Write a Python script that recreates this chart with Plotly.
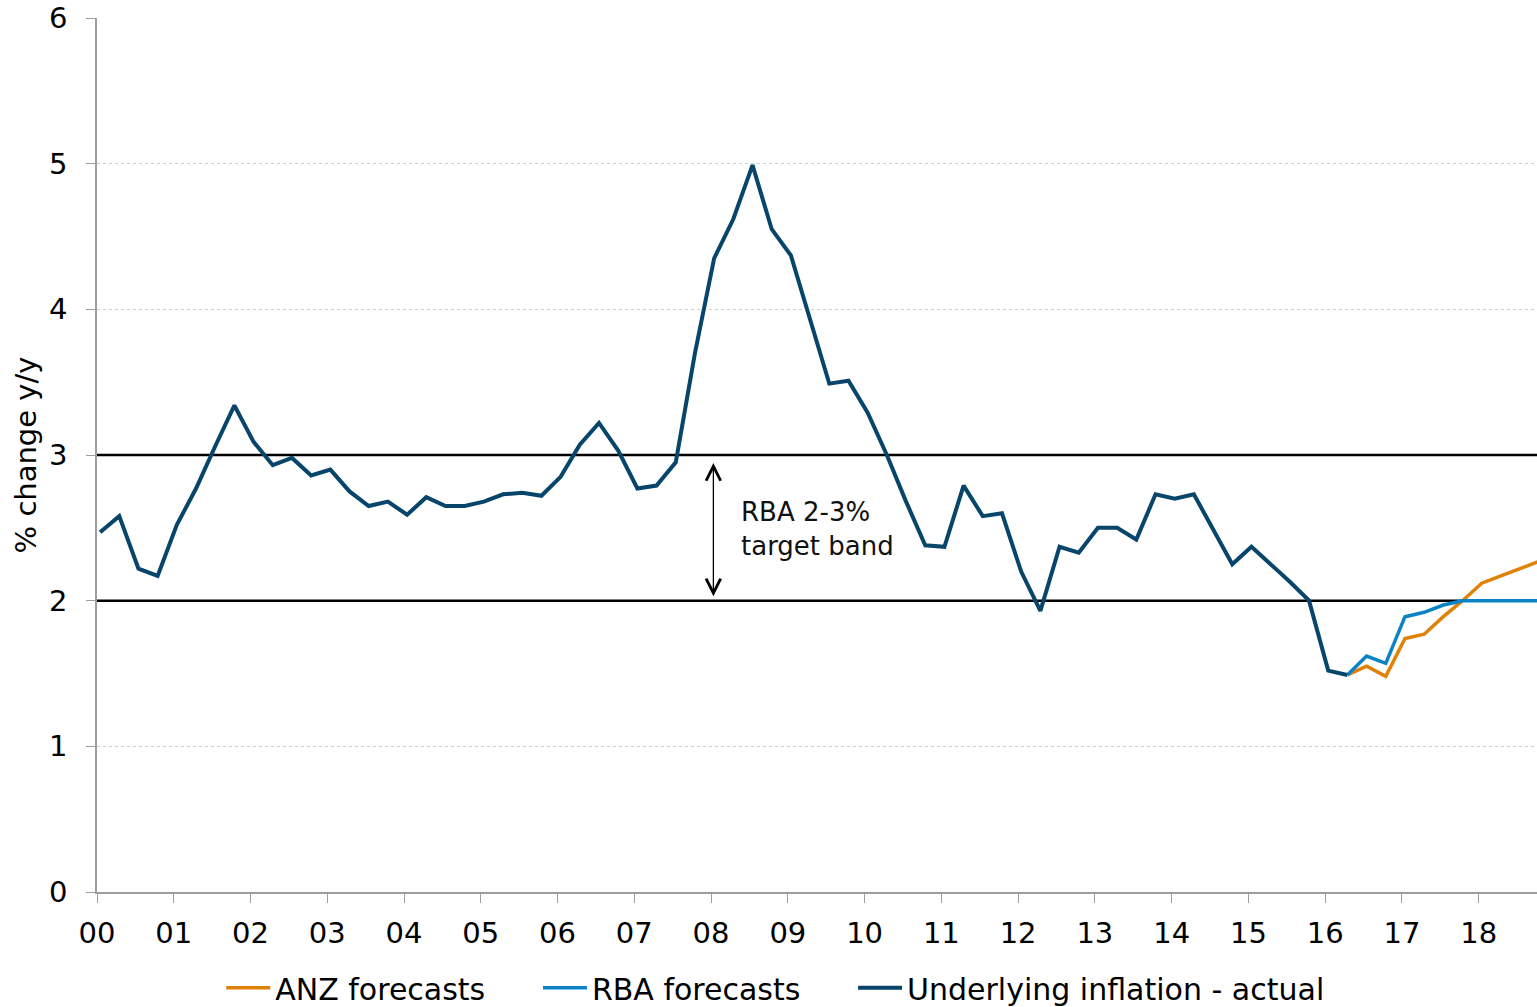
import plotly.graph_objects as go

# ---- data (quarterly, first observation just after start of 2000) ----
start_year = 0.04          # position of first quarter relative to "00" tick
step = 0.25

actual = [2.47, 2.58, 2.22, 2.17, 2.52, 2.77, 3.06, 3.34, 3.09, 2.93,
          2.98, 2.86, 2.90, 2.75, 2.65, 2.68, 2.59, 2.71, 2.65, 2.65,
          2.68, 2.73, 2.74, 2.72, 2.85, 3.07, 3.22, 3.03, 2.77, 2.79,
          2.95, 3.70, 4.35, 4.62, 4.99, 4.55, 4.37, 3.93, 3.49, 3.51,
          3.29, 3.00, 2.68, 2.38, 2.37, 2.79, 2.58, 2.60, 2.20, 1.93,
          2.37, 2.33, 2.50, 2.50, 2.42, 2.73, 2.70, 2.73, 2.49, 2.25,
          2.37, 2.25, 2.13, 2.00, 1.52, 1.49]

forecast_start_index = 65
anz_forecast = [1.49, 1.55, 1.48, 1.74, 1.77, 1.89, 2.00, 2.12, 2.17, 2.22, 2.27]
rba_forecast = [1.49, 1.62, 1.57, 1.89, 1.92, 1.97, 2.00, 2.00, 2.00, 2.00, 2.00]

tick_years = list(range(0, 19))
tick_labels = [f"{y:02d}" for y in tick_years]

band_low, band_high = 2, 3
x_range = [0, 18.76]

x_actual = [start_year + step * i for i in range(len(actual))]
x_fc = [start_year + step * (forecast_start_index + i) for i in range(len(anz_forecast))]

NAVY = "#07456a"
ORANGE = "#df8207"
BLUE = "#0a83c6"
FONT = "DejaVu Sans"
PAD = "\u00a0" * 5

fig = go.Figure()
# target band boundary lines (drawn first so data sits on top)
for yv in (band_low, band_high):
    fig.add_trace(go.Scatter(x=x_range, y=[yv, yv], mode="lines", showlegend=False,
                             hoverinfo="skip", line=dict(color="black", width=2.5)))

fig.add_trace(go.Scatter(x=x_fc, y=anz_forecast, mode="lines", name="ANZ forecasts" + PAD,
                         line=dict(color=ORANGE, width=3.5)))
fig.add_trace(go.Scatter(x=x_fc, y=rba_forecast, mode="lines", name="RBA forecasts" + PAD,
                         line=dict(color=BLUE, width=3.5)))
fig.add_trace(go.Scatter(x=x_actual, y=actual, mode="lines", name="Underlying inflation - actual",
                         line=dict(color=NAVY, width=4)))

# double-headed arrow for target band
fig.add_annotation(x=8.03, y=2.03, ax=8.03, ay=2.955, xref="x", yref="y",
                   axref="x", ayref="y", text="", showarrow=True,
                   arrowhead=5, startarrowhead=5, arrowside="end+start",
                   arrowsize=2.2, startarrowsize=2.2, arrowwidth=1.3, arrowcolor="black")
fig.add_annotation(x=8.36, y=2.49, xref="x", yref="y", text="RBA 2-3%<br>target band",
                   showarrow=False, xanchor="left", yanchor="middle", align="left",
                   font=dict(family=FONT, size=26, color="#111111"))

fig.update_layout(
    width=1537, height=1007,
    margin=dict(l=97, r=0, t=18, b=115),
    paper_bgcolor="white", plot_bgcolor="white",
    font=dict(family=FONT, color="black"),
    showlegend=True,
    legend=dict(orientation="h", x=0.471, xanchor="center",
                yref="container", y=0.019, yanchor="middle",
                itemwidth=44,
                font=dict(family=FONT, size=30, color="black"), bgcolor="rgba(0,0,0,0)"),
    xaxis=dict(range=x_range, tickvals=tick_years, ticktext=tick_labels,
               ticks="outside", ticklen=9, tickwidth=1.3, tickcolor="#9e9e9e",
               showline=True, linecolor="#9e9e9e", linewidth=1.5,
               showgrid=False, zeroline=False, ticklabelstandoff=5,
               tickfont=dict(family=FONT, size=29, color="black")),
    yaxis=dict(range=[0, 6], tick0=0, dtick=1,
               ticks="outside", ticklen=9, tickwidth=1.3, tickcolor="#9e9e9e",
               showline=True, linecolor="#9e9e9e", linewidth=1.5,
               showgrid=True, gridcolor="#c3d0da", griddash="dot", gridwidth=1,
               zeroline=False, ticklabelstandoff=13,
               tickfont=dict(family=FONT, size=29, color="black"),
               title=dict(text="% change y/y", standoff=4,
                          font=dict(family=FONT, size=29, color="black"))),
)

fig.write_html("out.html", config={"displayModeBar": False},
               post_script="document.body.style.margin='0';document.body.style.overflow='hidden';")
